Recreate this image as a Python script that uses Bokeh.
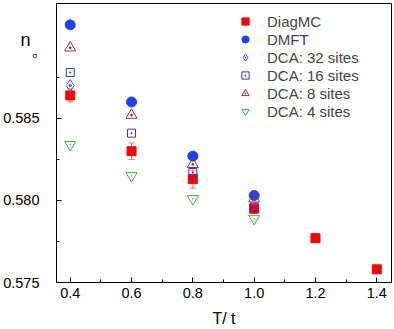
from bokeh.plotting import figure
from bokeh.models import (ColumnDataSource, Whisker, Legend, LegendItem,
                          FixedTicker, Range1d, TeeHead, LinearAxis,
                          CustomJSTickFormatter)
from bokeh.embed import file_html
from bokeh.resources import INLINE

# ---- data ----
T_diagmc = [0.4, 0.6, 0.8, 1.0, 1.2, 1.4]
n_diagmc = [0.5864, 0.5830, 0.5813, 0.5795, 0.5777, 0.5758]
err_diagmc = [0.0004, 0.0005, 0.00055, 0.0003, 0.0001, 0.0001]

T_dmft = [0.4, 0.6, 0.8, 1.0]
n_dmft = [0.5907, 0.5860, 0.5827, 0.5803]

T_dca32 = [0.4]
n_dca32 = [0.5870]

T_dca16 = [0.4, 0.6, 0.8, 1.0]
n_dca16 = [0.5878, 0.5841, 0.5817, 0.5796]

T_dca8 = [0.4, 0.6, 0.8, 1.0]
n_dca8 = [0.5893, 0.5852, 0.5822, 0.5801]

T_dca4 = [0.4, 0.6, 0.8, 1.0]
n_dca4 = [0.5834, 0.5815, 0.5801, 0.5789]

x_ticks = [0.4, 0.6, 0.8, 1.0, 1.2, 1.4]
x_minor = [0.5, 0.7, 0.9, 1.1, 1.3]
y_ticks = [0.575, 0.580, 0.585]
y_minor = [0.5775, 0.5825, 0.5875]

FONT = "Liberation Sans"

# placement of the horizontal "n_sigma" y title (top-left)
Y_N = 0.58980
Y_SIGMA = 0.58885

p = figure(width=394, height=329, output_backend="svg", toolbar_location=None,
           x_range=Range1d(0.3553, 1.448), y_range=Range1d(0.575, 0.592),
           min_border_left=49, min_border_right=3, min_border_top=3,
           min_border_bottom=47)
p.xgrid.visible = False
p.ygrid.visible = False
p.outline_line_color = "black"
p.outline_line_width = 1
p.background_fill_color = "white"
p.border_fill_color = "white"

# x axis
xa = p.xaxis[0]
xa.ticker = FixedTicker(ticks=x_ticks, minor_ticks=x_minor)
xa.major_label_overrides = {t: f"{t:.1f}" for t in x_ticks}
xa.major_tick_in = 5
xa.major_tick_out = 0
xa.minor_tick_in = 3
xa.minor_tick_out = 0
xa.axis_line_color = "black"
xa.major_label_text_font = FONT
xa.major_label_text_font_size = "14.5px"
xa.major_label_text_color = "black"
xa.major_label_standoff = 5
xa.axis_label = "T/ t"
xa.axis_label_text_font = FONT
xa.axis_label_text_font_size = "16px"
xa.axis_label_text_font_style = "normal"
xa.axis_label_text_color = "black"
xa.axis_label_standoff = 9

# y axis 1 (next to frame): line and tick marks only
ya = p.yaxis[0]
ya.ticker = FixedTicker(ticks=y_ticks, minor_ticks=y_minor)
ya.major_tick_in = 5
ya.major_tick_out = 0
ya.minor_tick_in = 3
ya.minor_tick_out = 0
ya.axis_line_color = "black"
ya.major_label_text_color = None
ya.major_label_text_font_size = "0px"
ya.major_label_standoff = 0


def title_axis(pos, txt, size, standoff):
    return LinearAxis(ticker=FixedTicker(ticks=[pos], minor_ticks=[]),
                      formatter=CustomJSTickFormatter(code="return '%s'" % txt),
                      axis_line_color=None,
                      major_tick_in=0, major_tick_out=0,
                      minor_tick_in=0, minor_tick_out=0,
                      major_label_text_font=FONT,
                      major_label_text_font_size=size,
                      major_label_text_color="black",
                      major_label_standoff=standoff)


# y axis 2: subscript sigma ; y axis 3: "n"
p.add_layout(title_axis(Y_SIGMA, "σ", "8px", 19), "left")
p.add_layout(title_axis(Y_N, "n", "18px", -1), "left")

# y axis 4: the numeric tick labels
ya_lab = LinearAxis(ticker=FixedTicker(ticks=y_ticks, minor_ticks=[]),
                    axis_line_color=None,
                    major_tick_in=0, major_tick_out=0,
                    minor_tick_in=0, minor_tick_out=0,
                    major_label_text_font=FONT,
                    major_label_text_font_size="14.5px",
                    major_label_text_color="black",
                    major_label_standoff=-22)
ya_lab.major_label_overrides = {t: f"{t:.3f}" for t in y_ticks}
p.add_layout(ya_lab, "left")

# error bars for DiagMC
src_d = ColumnDataSource(dict(x=T_diagmc, y=n_diagmc,
                              lo=[v - e for v, e in zip(n_diagmc, err_diagmc)],
                              hi=[v + e for v, e in zip(n_diagmc, err_diagmc)]))
wh = Whisker(source=src_d, base="x", upper="hi", lower="lo",
             line_color="#ff6a6a", line_width=1,
             upper_head=TeeHead(size=6, line_color="#ff6a6a", line_width=1),
             lower_head=TeeHead(size=6, line_color="#ff6a6a", line_width=1))
p.add_layout(wh)

r_diag = p.scatter("x", "y", source=src_d, marker="square", size=9,
                   fill_color="#ff0000", line_color="#ff0000")
r_dmft = p.scatter(T_dmft, n_dmft, marker="circle", size=10,
                   fill_color="#1f3fff", line_color="#1f3fff")
r_32 = p.scatter(T_dca32, n_dca32, marker="diamond_dot", size=12,
                 fill_color=None, line_color="#3a55ff", line_width=1)
r_16 = p.scatter(T_dca16, n_dca16, marker="square_dot", size=8,
                 fill_color=None, line_color="#3333cc", line_width=1)
r_8 = p.scatter(T_dca8, n_dca8, marker="triangle_dot", size=11,
                fill_color=None, line_color="#993333", line_width=1)
r_4 = p.scatter(T_dca4, n_dca4, marker="inverted_triangle", size=11,
                fill_color=None, line_color="#33bb33", line_width=1)
p.scatter(T_dca4, n_dca4, marker="dot", size=6, line_color="#33bb33",
          fill_color="#33bb33")

legend = Legend(items=[
    LegendItem(label="DiagMC", renderers=[r_diag]),
    LegendItem(label="DMFT", renderers=[r_dmft]),
    LegendItem(label="DCA: 32 sites", renderers=[r_32]),
    LegendItem(label="DCA: 16 sites", renderers=[r_16]),
    LegendItem(label="DCA: 8 sites", renderers=[r_8]),
    LegendItem(label="DCA: 4 sites", renderers=[r_4]),
], location=(179, 162), orientation="vertical")
legend.label_text_font = FONT
legend.label_text_font_size = "15px"
legend.label_height = 18
legend.glyph_height = 18
legend.glyph_width = 20
legend.label_standoff = 12
legend.spacing = 0
legend.padding = 0
legend.margin = 0
legend.border_line_color = None
legend.background_fill_alpha = 0
p.add_layout(legend)

open("out.html", "w").write(file_html(p, INLINE))
